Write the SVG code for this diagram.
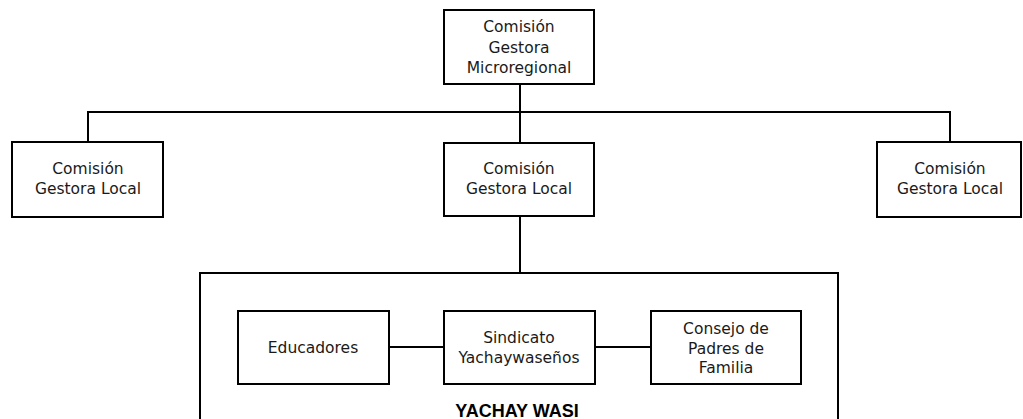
<svg xmlns="http://www.w3.org/2000/svg" width="1023" height="419" viewBox="0 0 1023 419">
<style>
.box{fill:#fff;stroke:#000;stroke-width:2}
.frame{fill:none;stroke:#000;stroke-width:2}
.ln{fill:none;stroke:#000;stroke-width:2}
.t{font-family:"DejaVu Sans",Verdana,sans-serif;font-size:15.5px;fill:#1a1a1a;text-anchor:middle}
.b{font-family:"Liberation Sans",Arial,sans-serif;font-size:18px;font-weight:bold;fill:#000;text-anchor:middle}
</style>
<rect width="1023" height="419" fill="#fff"/>
<g id="yachay-wasi">
<rect class="frame" x="200" y="273" width="638" height="160"/>
<text class="b" x="517" y="417">YACHAY WASI</text>
</g>
<g id="connectors">
<path class="ln" d="M520 84V273M88 142V112H950V142M389 347H444M595 347H651"/>
</g>
<g id="cgm">
<rect class="box" x="444" y="10" width="150" height="74"/>
<text class="t" x="519" y="32">Comisión</text>
<text class="t" x="519" y="53">Gestora</text>
<text class="t" x="519" y="73">Microregional</text>
</g>
<g id="cgl-left">
<rect class="box" x="12" y="142" width="151" height="75"/>
<text class="t" x="88" y="174">Comisión</text>
<text class="t" x="88" y="194">Gestora Local</text>
</g>
<g id="cgl-center">
<rect class="box" x="444" y="143" width="150" height="73"/>
<text class="t" x="519" y="174">Comisión</text>
<text class="t" x="519" y="194">Gestora Local</text>
</g>
<g id="cgl-right">
<rect class="box" x="877" y="142" width="144" height="75"/>
<text class="t" x="950" y="174">Comisión</text>
<text class="t" x="950" y="194">Gestora Local</text>
</g>
<g id="educadores">
<rect class="box" x="238" y="311" width="151" height="73"/>
<text class="t" x="313" y="353">Educadores</text>
</g>
<g id="sindicato">
<rect class="box" x="444" y="311" width="151" height="73"/>
<text class="t" x="519" y="343">Sindicato</text>
<text class="t" x="519" y="363">Yachaywaseños</text>
</g>
<g id="consejo">
<rect class="box" x="651" y="311" width="150" height="73"/>
<text class="t" x="726" y="334">Consejo de</text>
<text class="t" x="726" y="354">Padres de</text>
<text class="t" x="726" y="373">Familia</text>
</g>
</svg>
